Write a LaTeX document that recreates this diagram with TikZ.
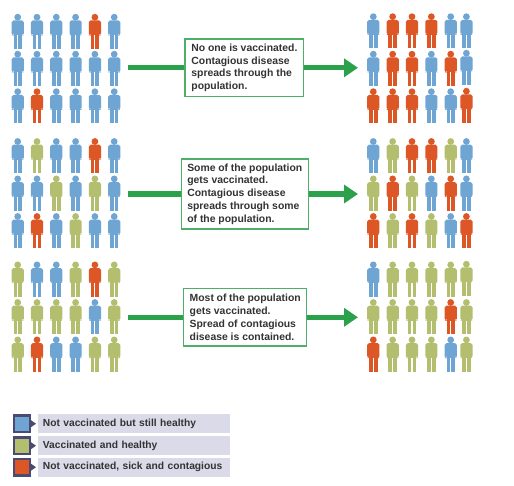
\documentclass[tikz,border=0pt]{standalone}
\usepackage{fontspec}
\setmainfont{Liberation Sans}
\usetikzlibrary{arrows.meta}
\definecolor{pB}{HTML}{6FA5D2}
\definecolor{pG}{HTML}{B3BF6E}
\definecolor{pR}{HTML}{DD5726}
\definecolor{flow}{HTML}{2BA14B}
\definecolor{boxline}{HTML}{4FAE6A}
\definecolor{ink}{HTML}{333333}
\definecolor{keydark}{HTML}{4A4A72}
\definecolor{keybar}{HTML}{DADAE8}
\tikzset{
  person/.pic={
    \fill[#1] (0,3.2) circle[radius=3.4];
    \fill[#1,rounded corners=1.8pt] (-6.1,21.3) -- (-6.1,6.4) -- (6.1,6.4) -- (6.1,21.3) -- (4.2,21.3) -- (4.2,20) -- (-4.2,20) -- (-4.2,21.3) -- cycle;
    \fill[#1] (-4.2,18) rectangle (4.2,21.5);
    \fill[#1] (-4.2,21) rectangle (-0.55,35);
    \fill[#1] (0.55,21) rectangle (4.2,35);
  },
  msgbox/.style={draw=boxline,line width=1.4pt,fill=white,text=ink,font=\bfseries\fontsize{10.4}{12.7}\selectfont,align=left,inner sep=0pt,anchor=center},
  flowline/.style={draw=flow,line width=5.4pt},
  flowarrow/.style={flowline,-{Triangle[length=14pt,width=18pt]}},
  keyswatch/.style={draw=keydark,line width=2.4pt,minimum size=16.5pt,inner sep=0pt},
  keybarnode/.style={fill=keybar,text=ink,font=\bfseries\fontsize{10.25}{12}\selectfont,anchor=west,minimum width=192.3pt,minimum height=18.7pt,inner sep=0pt,inner xsep=5pt,text width=182.3pt,align=left},
}
\newcommand{\leftrow}[2]{%
  \foreach \c [count=\i from 0] in {#2} {\pic at ({17.7+19.3*\i},#1) {person=p\c};}}
\newcommand{\rightrow}[3]{%
  \foreach \c [count=\i from 0] in {#3} {%
    \ifnum\i=5
      \pic at (466.4,#1-#2) {person=p\c};
    \else
      \pic at ({373.3+19.35*\i},#1) {person=p\c};
    \fi}}
\begin{document}
\begin{tikzpicture}[x=1pt,y=-1pt]
\useasboundingbox (0,0) rectangle (514,486);
% top group
\leftrow{14}{B,B,B,B,R,B}
\leftrow{51}{B,B,B,B,B,B}
\leftrow{88.5}{B,R,B,B,B,B}
\rightrow{13.5}{0}{B,R,R,R,B,B}
\rightrow{51}{1}{B,R,R,B,R,B}
\rightrow{88.5}{0.5}{R,R,R,B,B,R}
% middle group
\leftrow{138.3}{B,G,B,B,R,B}
\leftrow{175.7}{B,B,G,B,G,B}
\leftrow{213.3}{B,R,B,G,B,B}
\rightrow{138.3}{0}{B,G,R,R,G,B}
\rightrow{175.7}{0}{G,R,G,B,R,B}
\rightrow{213.3}{0}{R,G,R,G,B,R}
% bottom group
\leftrow{261.7}{G,B,B,G,R,G}
\leftrow{299.3}{G,G,G,G,B,G}
\leftrow{336.7}{G,R,B,B,G,G}
\rightrow{261.7}{0.7}{B,G,G,G,G,G}
\rightrow{299.3}{0}{G,G,G,G,R,G}
\rightrow{336.7}{0}{R,G,G,G,B,G}
% messages and flow
\node[msgbox,minimum width=118.7pt,minimum height=57.7pt] (m1) at (244.4,67.8) {\parbox{106pt}{No one is vaccinated.\\Contagious disease\\spreads through the\\population.}};
\node[msgbox,minimum width=127pt,minimum height=70pt] (m2) at (244.8,194) {\parbox{115pt}{Some of the population\\gets vaccinated.\\Contagious disease\\spreads through some\\of the population.}};
\node[msgbox,minimum width=123pt,minimum height=57.3pt] (m3) at (245.2,317.3) {\parbox{111pt}{Most of the population\\gets vaccinated.\\Spread of contagious\\disease is contained.}};
\coordinate (s1) at (128,67.8); \coordinate (e1) at (358,67.8);
\coordinate (s2) at (128,194); \coordinate (e2) at (358,194);
\coordinate (s3) at (128,317.3); \coordinate (e3) at (358,317.3);
\foreach \n in {1,2,3} {
  \draw[flowline] (s\n) -- (m\n);
  \draw[flowarrow] (m\n) -- (e\n);
}
% key
\foreach \n/\y/\col/\txt in {
  1/423.7/pB/Not vaccinated but still healthy,
  2/445.7/pG/Vaccinated and healthy,
  3/467.2/pR/{Not vaccinated, sick and contagious}} {
  \fill[keydark] (31,\y-3.5) -- (36,\y) -- (31,\y+3.5) -- cycle;
  \node[keyswatch,fill=\col] (k\n) at (22,\y) {};
  \node[keybarnode] (t\n) at (37.7,\y) {\txt};
}
\end{tikzpicture}
\end{document}
